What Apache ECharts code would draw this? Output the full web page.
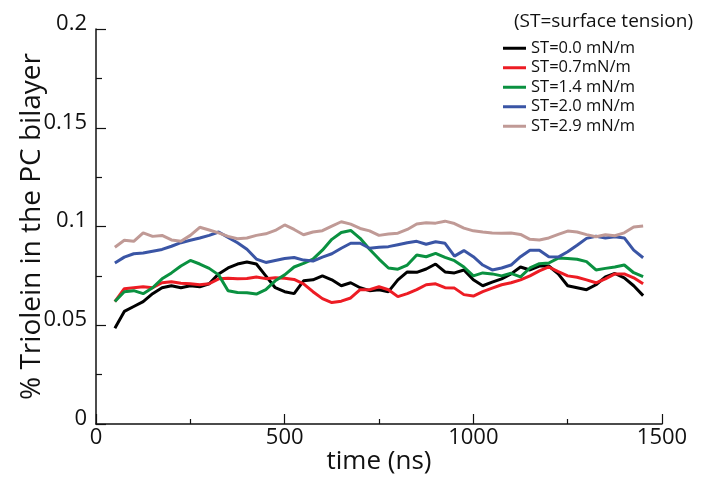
<!DOCTYPE html>
<html>
<head>
<meta charset="utf-8">
<script src="https://cdn.jsdelivr.net/npm/echarts@6/dist/echarts.min.js"></script>
<style>html,body{margin:0;padding:0;background:#fff}#c{width:707px;height:481px}</style>
</head>
<body>
<div id="c"></div>
<script>
var times = [50,75,100,125,150,175,200,225,250,275,300,325,350,375,400,425,450,475,500,525,550,575,600,625,650,675,700,725,750,775,800,825,850,875,900,925,950,975,1000,1025,1050,1075,1100,1125,1150,1175,1200,1225,1250,1275,1300,1325,1350,1375,1400,1425,1450];

var st00 = [0.0485,0.057,0.0595,0.062,0.066,0.069,0.070,0.069,0.070,0.0695,0.071,0.076,0.079,0.081,0.082,0.081,0.075,0.069,0.067,0.066,0.0725,0.073,0.075,0.073,0.070,0.0715,0.069,0.0675,0.068,0.067,0.073,0.077,0.0768,0.0785,0.081,0.077,0.0765,0.078,0.073,0.070,0.0718,0.0735,0.076,0.0795,0.078,0.080,0.080,0.076,0.070,0.069,0.068,0.0705,0.0745,0.0762,0.074,0.070,0.065];

var st07 = [0.062,0.0685,0.069,0.0695,0.069,0.0715,0.072,0.0713,0.071,0.0705,0.071,0.0735,0.0738,0.0735,0.0737,0.0744,0.0736,0.074,0.0738,0.0732,0.071,0.067,0.0635,0.0615,0.0622,0.0638,0.068,0.068,0.0695,0.068,0.0645,0.066,0.068,0.0705,0.071,0.069,0.0688,0.0655,0.0648,0.067,0.0688,0.0705,0.0715,0.073,0.075,0.0775,0.0795,0.0772,0.075,0.0743,0.073,0.0715,0.0735,0.076,0.076,0.074,0.071];

var st14 = [0.062,0.067,0.0675,0.066,0.069,0.0735,0.0765,0.080,0.0828,0.081,0.0788,0.0755,0.0675,0.0666,0.0665,0.0658,0.068,0.0725,0.0755,0.0795,0.0813,0.0835,0.088,0.0935,0.097,0.098,0.094,0.0885,0.0835,0.079,0.0784,0.0805,0.0856,0.0847,0.0864,0.0844,0.0827,0.0795,0.075,0.0765,0.076,0.075,0.0763,0.0745,0.079,0.0812,0.0815,0.084,0.0838,0.0834,0.0822,0.078,0.0788,0.0795,0.0805,0.0766,0.0746];

var st20 = [0.0815,0.0845,0.0862,0.0866,0.0875,0.0884,0.090,0.0918,0.093,0.0942,0.0955,0.0972,0.0945,0.0918,0.0885,0.0835,0.0818,0.0828,0.0838,0.0843,0.083,0.0825,0.0845,0.0862,0.089,0.0915,0.0915,0.089,0.0895,0.0898,0.0908,0.0918,0.0925,0.091,0.0923,0.0915,0.085,0.0878,0.0847,0.0805,0.078,0.079,0.0805,0.0847,0.088,0.088,0.0847,0.0845,0.0872,0.0905,0.094,0.0951,0.0942,0.0948,0.0942,0.088,0.0842];

var st29 = [0.0895,0.093,0.0925,0.0968,0.095,0.0955,0.0932,0.0925,0.0955,0.0996,0.0982,0.0968,0.095,0.0938,0.0942,0.0955,0.0963,0.098,0.1008,0.0985,0.0958,0.0972,0.0979,0.1002,0.1024,0.1012,0.099,0.0978,0.0955,0.0962,0.0966,0.0985,0.1013,0.1019,0.1017,0.1027,0.1015,0.0992,0.0978,0.0972,0.0967,0.0966,0.0967,0.096,0.0935,0.0932,0.0942,0.096,0.0977,0.0972,0.0959,0.0948,0.0958,0.0953,0.0968,0.0997,0.1002];

var seriesNames = ['ST=0.0 mN/m','ST=0.7mN/m','ST=1.4 mN/m','ST=2.0 mN/m','ST=2.9 mN/m'];
var seriesColors = ['#000000','#ed1c24','#0a9140','#3a55a5','#c09a96'];
var seriesData = [st00, st07, st14, st20, st29];

var FONT = 'Open Sans';
var INK = '#111111';
var chart = echarts.init(document.getElementById('c'));
var series = seriesNames.map(function(n,i){
  return {
    name: n, type: 'line', showSymbol: false, symbol: 'none', smooth: false,
    lineStyle: {color: seriesColors[i], width: 3},
    itemStyle: {color: seriesColors[i]},
    data: times.map(function(t,j){ return [t, seriesData[i][j]]; }),
    animation: false
  };
});
chart.setOption({
  animation: false,
  backgroundColor: '#fff',
  title: {
    text: '(ST=surface tension)', right: 9, top: 7,
    textStyle: {fontFamily: FONT, fontSize: 19, fontWeight: 'normal', color: INK}
  },
  legend: {
    orient: 'vertical', left: 498, top: 34,
    icon: 'rect', itemWidth: 23, itemHeight: 3, itemGap: 1,
    textStyle: {fontFamily: FONT, fontSize: 16.5, color: INK, lineHeight: 18.5},
    data: seriesNames
  },
  grid: {left: 96, right: 45, top: 29, bottom: 57, containLabel: false, outerBoundsMode: 'none'},
  xAxis: {
    type: 'value', min: 0, max: 1500, interval: 500,
    name: 'time (ns)', nameLocation: 'middle', nameGap: 25, nameMoveOverlap: false,
    nameTextStyle: {fontFamily: FONT, fontSize: 26, color: INK, verticalAlign: 'top'},
    axisLine: {lineStyle: {color: INK, width: 1.5}},
    axisTick: {inside: true, length: 10, lineStyle: {color: INK, width: 1.2}},
    minorTick: {show: true, splitNumber: 2, length: 5, lineStyle: {color: INK, width: 1.2}},
    axisLabel: {fontFamily: FONT, fontSize: 22, color: INK, margin: 3,
      formatter: function(v){ return String(v); }},
    splitLine: {show: false}
  },
  yAxis: {
    type: 'value', min: 0, max: 0.2, interval: 0.05,
    name: '% Triolein in the PC bilayer', nameLocation: 'middle', nameGap: 50, nameRotate: 90,
    nameMoveOverlap: false,
    nameTextStyle: {fontFamily: FONT, fontSize: 28, color: INK},
    axisLine: {lineStyle: {color: INK, width: 1.5}},
    axisTick: {inside: true, length: 10, lineStyle: {color: INK, width: 1.2}},
    minorTick: {show: true, splitNumber: 2, length: 6, lineStyle: {color: INK, width: 1.2}},
    axisLabel: {fontFamily: FONT, fontSize: 22, color: INK, margin: 9,
      verticalAlign: 'bottom', lineHeight: 11,
      formatter: function(v){ return String(+v.toFixed(3)); }},
    splitLine: {show: false}
  },
  series: series
});
</script>
</body>
</html>
